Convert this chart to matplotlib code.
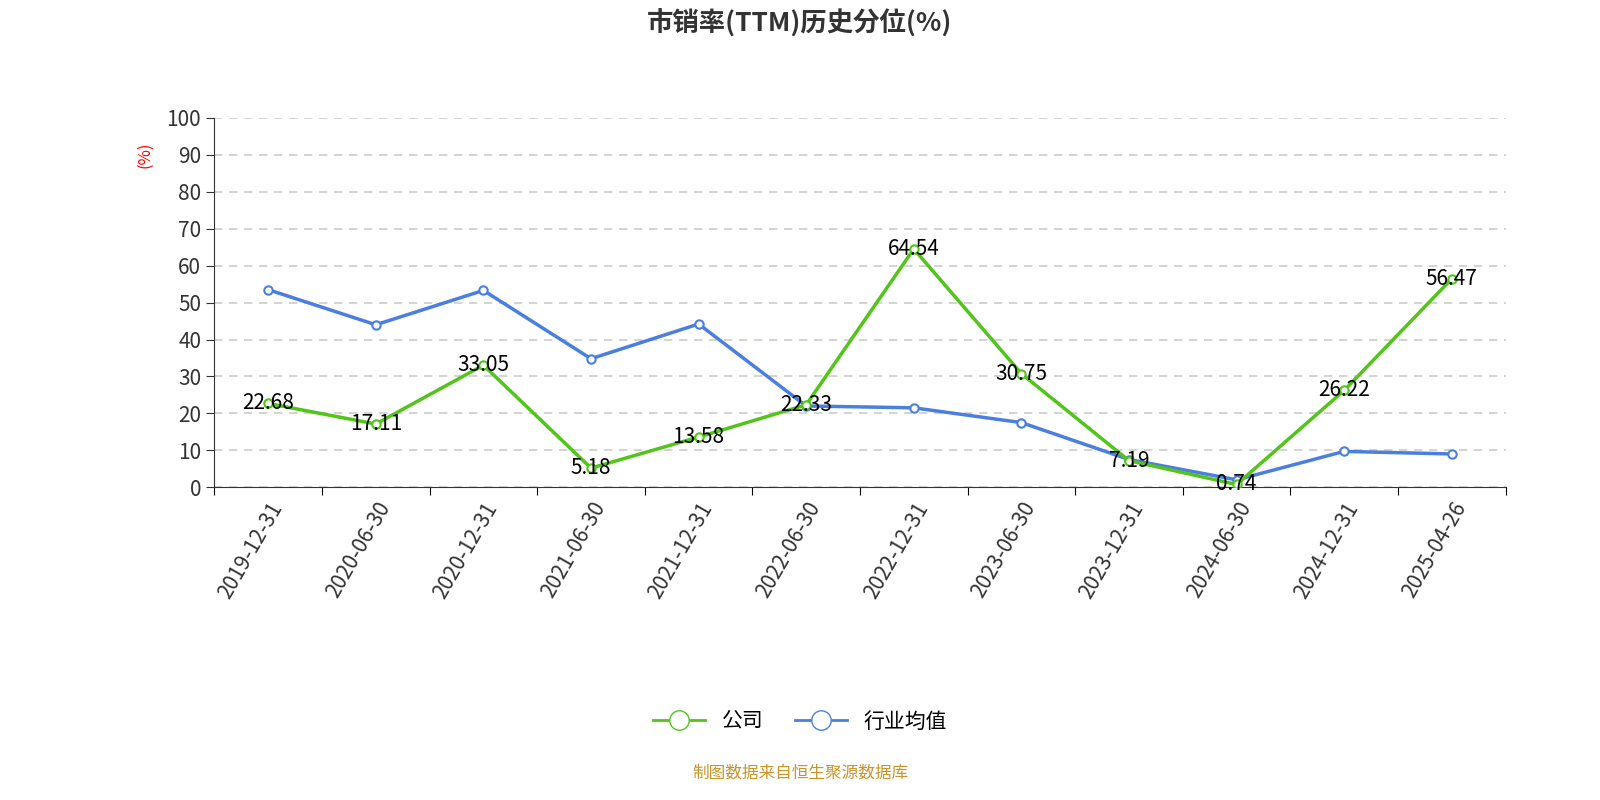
import matplotlib
matplotlib.use("Agg")
import matplotlib.pyplot as plt
from matplotlib.lines import Line2D
from matplotlib import font_manager

cjk = [f.name for f in font_manager.fontManager.ttflist if "CJK" in f.name]
pref = [n for n in ["Noto Sans CJK SC", "Noto Sans CJK JP", "Noto Sans CJK TC", "Noto Sans CJK KR"] if n in cjk]
fam = (pref or cjk[:1]) + ["DejaVu Sans"]
plt.rcParams["font.family"] = "sans-serif"
plt.rcParams["font.sans-serif"] = fam

dates = ["2019-12-31","2020-06-30","2020-12-31","2021-06-30","2021-12-31","2022-06-30",
         "2022-12-31","2023-06-30","2023-12-31","2024-06-30","2024-12-31","2025-04-26"]
company = [22.68,17.11,33.05,5.18,13.58,22.33,64.54,30.75,7.19,0.74,26.22,56.47]
industry = [53.5,44.0,53.3,34.8,44.2,22.0,21.5,17.5,7.5,2.0,9.7,9.0]

green = "#52c41a"
blue = "#4a7fe0"

fig = plt.figure(figsize=(16, 8), dpi=100)
ax = fig.add_axes([0.134, 0.391, 0.807, 0.4615])
x = list(range(len(dates)))
ax.plot(x, industry, color=blue, lw=2.5, marker="o", ms=6, mfc="white", mec=blue, mew=1.5, zorder=3)
ax.plot(x, company, color=green, lw=2.5, marker="o", ms=6, mfc="white", mec=green, mew=1.5, zorder=4)
for xi, v in zip(x, company):
    ax.text(xi, v, f"{v:.2f}", ha="center", va="center", fontsize=15, color="black", zorder=5)

ax.set_xlim(-0.5, len(dates) - 0.5)
ax.set_ylim(0, 100)
ax.set_yticks(range(0, 101, 10))
ax.tick_params(axis="y", labelsize=15, colors="#333333", length=6)
ax.set_xticks([i - 0.5 for i in range(len(dates) + 1)], minor=False)
ax.set_xticklabels([])
ax.set_xticks(x, minor=True)
ax.set_xticklabels(dates, minor=True, rotation=60, ha="right", rotation_mode="anchor", fontsize=15, color="#333333")
ax.tick_params(axis="x", which="major", length=6)
ax.tick_params(axis="x", which="minor", length=0, pad=8)
ax.grid(axis="y", ls=(0, (5, 4)), color="#cccccc", lw=1.2)
for s in ["top", "right"]:
    ax.spines[s].set_visible(False)
ax.spines["left"].set_color("#333333")
ax.spines["bottom"].set_color("#333333")
ax.set_ylabel("(%)", color="red", fontsize=12)
ax.yaxis.set_label_coords(-0.047, 0.9)

fig.text(0.5, 0.97, "市销率(TTM)历史分位(%)", ha="center", va="center", fontsize=19, fontweight="bold", color="#333333")
handles = [Line2D([0], [0], color=green, lw=2, marker="o", ms=14, mfc="white", mec=green),
           Line2D([0], [0], color=blue, lw=2, marker="o", ms=14, mfc="white", mec=blue)]
fig.legend(handles, ["公司", "行业均值"], loc="center", bbox_to_anchor=(0.5, 0.098), ncol=2,
           frameon=False, fontsize=15, handlelength=2.5, columnspacing=1.5)
fig.text(0.5, 0.034, "制图数据来自恒生聚源数据库", ha="center", va="center", fontsize=12, color="#c8952a")
fig.savefig("out.png")
